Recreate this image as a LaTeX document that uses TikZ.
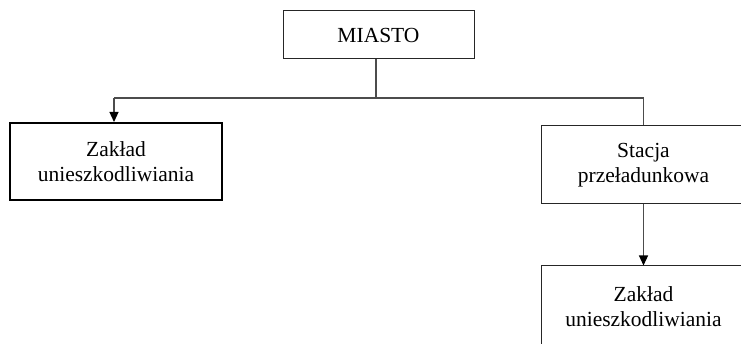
\documentclass[tikz,border=0pt]{standalone}
\usepackage{fontspec}
\setmainfont{Liberation Serif}
\usetikzlibrary{arrows.meta}
\begin{document}
\begin{tikzpicture}[x=1pt,y=-1pt,
  box/.style={draw=black!85, line width=1pt, inner sep=0pt, align=center,
    font=\fontsize{21.5}{25}\selectfont},
  conn/.style={draw=black!70, line width=1.2pt},
  arr/.style={conn, -{Triangle[width=9pt,length=10pt,fill=black,color=black]}}]
\useasboundingbox (0,0) rectangle (741,344);
\node[box, minimum width=191pt, minimum height=48pt] (miasto) at (378.5,35) {MIASTO};
\node[box, line width=2pt, draw=black, minimum width=212pt, minimum height=77pt] (zl) at (116,161.5) {Zakład\\unieszkodliwiania};
\node[box, minimum width=205pt, minimum height=78pt] (st) at (643.5,165) {Stacja\\przeładunkowa};
\node[box, minimum width=205pt, minimum height=81pt] (zr) at (643.5,306.5) {Zakład\\unieszkodliwiania};
\coordinate (j) at (376,98);
\coordinate (jl) at (114,98);
\draw[conn] (j |- miasto.south) -- (j);
\draw[conn] (j) -- (jl);
\draw[arr] (jl) -- (jl |- zl.north);
\draw[conn] (j) -| (st.north);
\draw[arr] (st.south) -- (zr.north);
\end{tikzpicture}
\end{document}
